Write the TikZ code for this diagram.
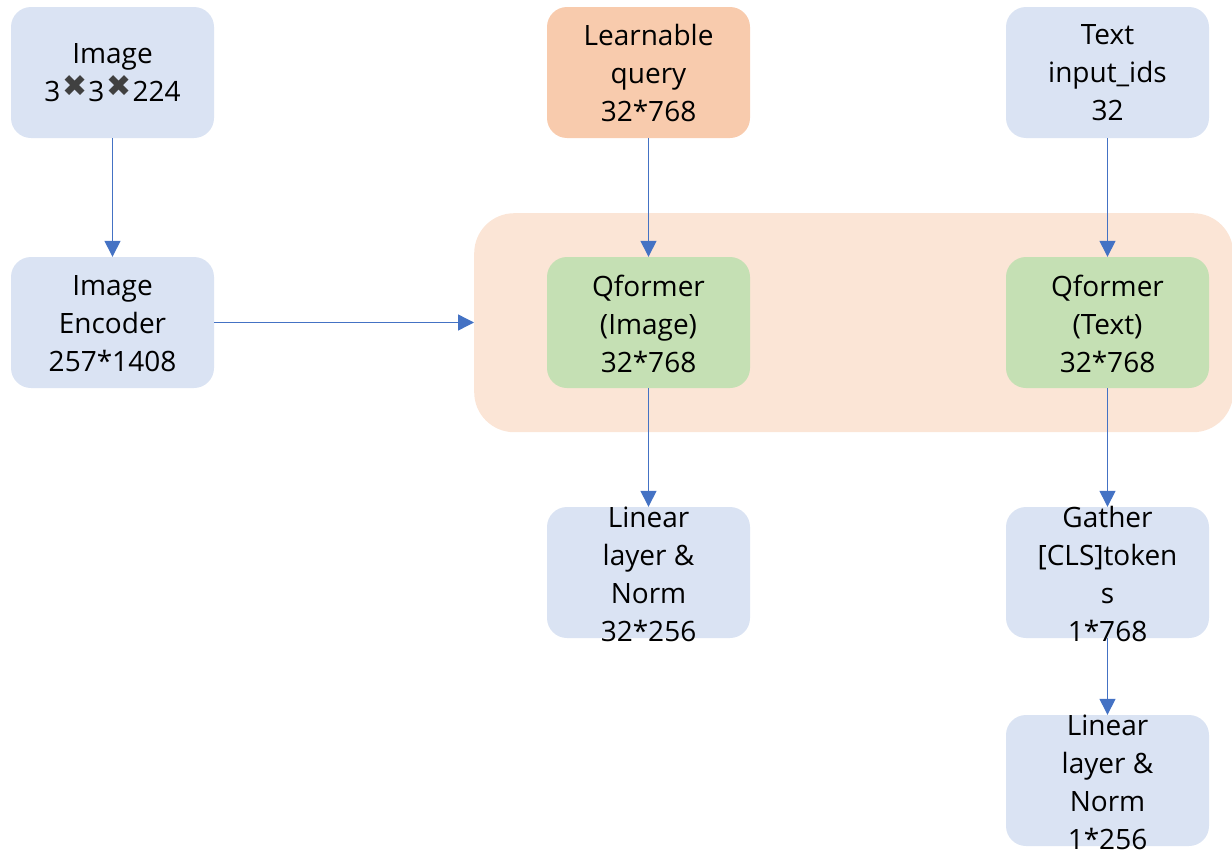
\documentclass[tikz,border=0pt]{standalone}
\usepackage{fontspec}
\setmainfont{Open Sans}
\newfontfamily\symfont{DejaVu Sans}
\usetikzlibrary{arrows.meta}

\definecolor{boxblue}{HTML}{DAE3F3}
\definecolor{boxorange}{HTML}{F8CBAD}
\definecolor{boxgreen}{HTML}{C5E0B4}
\definecolor{groupbg}{HTML}{FBE5D6}
\definecolor{linkblue}{HTML}{4472C4}
\definecolor{crossgray}{HTML}{404040}

\tikzset{
  blockbox/.style={rectangle, rounded corners=20pt, draw=none,
    minimum width=203pt, minimum height=131pt, inner sep=0pt},
  bluebox/.style={blockbox, fill=boxblue},
  orangebox/.style={blockbox, fill=boxorange},
  greenbox/.style={blockbox, fill=boxgreen},
  label text/.style={align=center, inner sep=0pt, text=black,
    font=\fontsize{28}{38}\selectfont},
  link/.style={draw=linkblue, line width=1.4pt,
    -{Triangle[width=16pt,length=16pt]}},
}

% heavy multiplication sign, raised and set a little apart from the digits
\newcommand{\hx}{\hspace{2pt}{\symfont\color{crossgray}\raisebox{5pt}{\fontsize{30}{30}\selectfont ✖}}\hspace{1pt}}

\begin{document}
\begin{tikzpicture}[x=1pt,y=-1pt]
  \useasboundingbox (0,0) rectangle (1232,854);
  \clip (0,0) rectangle (1232,854);

  % grouping panel behind the two Q-formers
  \node[rectangle, rounded corners=40pt, fill=groupbg, inner sep=0pt,
        minimum width=759pt, minimum height=219pt, anchor=north west]
        (group) at (474,213) {};

  % blocks
  \node[bluebox]   (img)    at (112.5,72.5)  {};
  \node[bluebox]   (enc)    at (112.5,322.5) {};
  \node[orangebox] (query)  at (648.5,72.5)  {};
  \node[bluebox]   (text)   at (1107.5,72.5) {};
  \node[greenbox]  (qimg)   at (648.5,322.5) {};
  \node[greenbox]  (qtxt)   at (1107.5,322.5) {};
  \node[bluebox]   (linA)   at (648.5,572.5) {};
  \node[bluebox]   (gather) at (1107.5,572.5) {};
  \node[bluebox]   (linB)   at (1107.5,780.5) {};

  % block captions
  \node[label text] (img-t)    at (112.5,73)   {Image\\3\hx3\hx224};
  \node[label text] (enc-t)    at (112.5,324)  {Image\\Encoder\\257*1408};
  \node[label text] (query-t)  at (648.5,73)   {Learnable\\query\\32*768};
  \node[label text] (text-t)   at (1107.5,73)  {Text\\input\_ids\\32};
  \node[label text] (qimg-t)   at (648.5,324)  {Qformer\\(Image)\\32*768};
  \node[label text] (qtxt-t)   at (1107.5,324) {Qformer\\(Text)\\32*768};
  \node[label text] (linA-t)   at (648.5,574)  {Linear\\layer \&\\Norm\\32*256};
  \node[label text] (gather-t) at (1107.5,574) {Gather\\{}[CLS]token\\s\\1*768};
  \node[label text] (linB-t)   at (1107.5,782) {Linear\\layer \&\\Norm\\1*256};

  % data flow
  \draw[link] (img.south) -- (enc.north);
  \draw[link] (enc.east) -- (enc.east -| group.west);
  \draw[link] (query.south) -- (qimg.north);
  \draw[link] (text.south) -- (qtxt.north);
  \draw[link] (qimg.south) -- (linA.north);
  \draw[link] (qtxt.south) -- (gather.north);
  \draw[link] (gather.south) -- (linB.north);
\end{tikzpicture}
\end{document}
